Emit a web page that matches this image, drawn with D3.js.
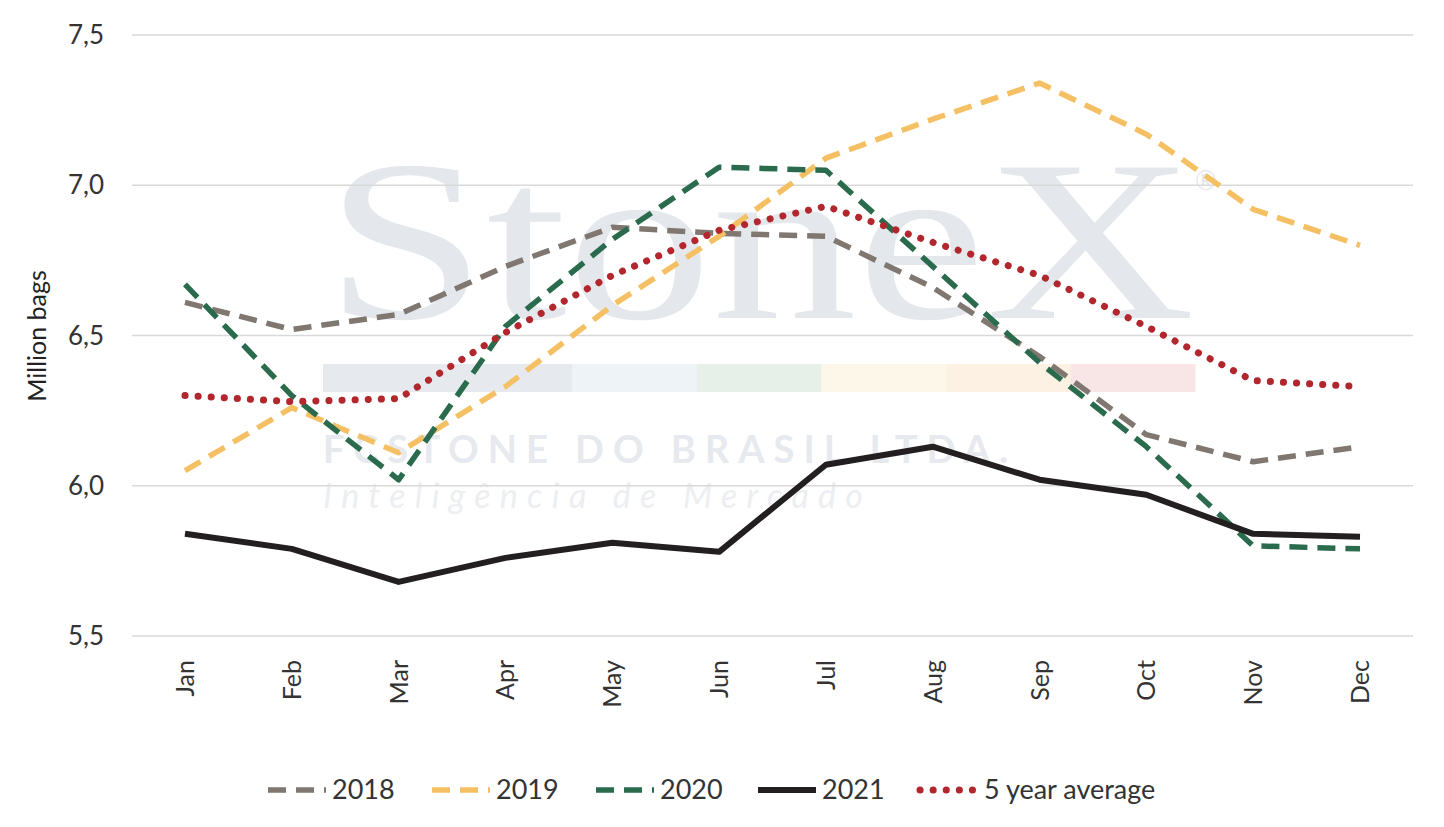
<!DOCTYPE html>
<html><head><meta charset="utf-8">
<script src="https://cdn.jsdelivr.net/npm/d3@7"></script>
<style>body{margin:0;background:#fff;font-family:Lato,"Noto Sans",sans-serif}</style>
</head><body><svg id="c" width="1444" height="827"></svg>
<script>
var months = ['Jan','Feb','Mar','Apr','May','Jun','Jul','Aug','Sep','Oct','Nov','Dec'];
var y2018 = [6.61,6.52,6.57,6.73,6.86,6.84,6.83,6.66,6.43,6.17,6.08,6.13];
var y2019 = [6.05,6.26,6.11,6.33,6.60,6.83,7.09,7.22,7.34,7.17,6.92,6.80];
var y2020 = [6.67,6.30,6.02,6.53,6.82,7.06,7.05,6.73,6.41,6.13,5.80,5.79];
var y2021 = [5.84,5.79,5.68,5.76,5.81,5.78,6.07,6.13,6.02,5.97,5.84,5.83];
var avg5 = [6.30,6.28,6.29,6.51,6.70,6.85,6.93,6.81,6.70,6.53,6.35,6.33];
var yTicks = [5.5,6.0,6.5,7.0,7.5];

var series = [
  {name:'2018', v:y2018, color:'#7f7770', dash:'18,10', w:5.5, cap:'butt'},
  {name:'2019', v:y2019, color:'#f5c063', dash:'18,10', w:5.5, cap:'butt'},
  {name:'2020', v:y2020, color:'#2a6b4d', dash:'18,10', w:5.5, cap:'butt'},
  {name:'2021', v:y2021, color:'#231f20', dash:null, w:6, cap:'butt'},
  {name:'5 year average', v:avg5, color:'#b2272d', dash:'0.1,13', w:7, cap:'round'}
];

var svg = d3.select('#c');
var x = d3.scalePoint().domain(months).range([185,1360]);
var y = d3.scaleLinear().domain([5.5,7.5]).range([636,35]);

// watermark
var wm = svg.append('g');
wm.append('text').attr('x',325).attr('y',318).attr('textLength',870).attr('lengthAdjust','spacingAndGlyphs')
  .attr('font-family','Liberation Serif,serif').attr('font-size',230).attr('fill','#e4e7ec').text('StoneX');
wm.append('text').attr('x',1195).attr('y',190).attr('font-size',26).attr('fill','#e4e7ec').text('®');
var wc = ['#e6e9ee','#e6e9ee','#eef3f8','#e7efe9','#fdf7ea','#fdf1e4','#f8e6e6'];
wc.forEach(function(c,i){ wm.append('rect').attr('x',323+i*124.6).attr('y',364).attr('width',125).attr('height',28).attr('fill',c); });
wm.append('text').attr('x',323).attr('y',463).attr('textLength',685).attr('font-size',38).attr('font-weight','bold').attr('fill','#e6e9ee').text('FCSTONE DO BRASIL LTDA.');
wm.append('text').attr('x',323).attr('y',508).attr('textLength',540).attr('font-size',34).attr('font-style','italic').attr('fill','#eceef1').text('Inteligência de Mercado');

// grid
svg.append('g').selectAll('line').data(yTicks).enter().append('line')
  .attr('x1',132).attr('x2',1413).attr('y1',function(d){return y(d);}).attr('y2',function(d){return y(d);})
  .attr('stroke','#d9d9d9').attr('stroke-width',1.3);
svg.append('g').selectAll('text').data(yTicks).enter().append('text')
  .attr('x',104).attr('y',function(d){return y(d)+9;}).attr('text-anchor','end')
  .attr('font-size',26).attr('fill','#333').text(function(d){return d3.format('.1f')(d).replace('.',',');});
svg.append('g').selectAll('text').data(months).enter().append('text')
  .attr('transform',function(d){return 'translate('+(x(d)+9)+',660) rotate(-90)';})
  .attr('text-anchor','end').attr('font-size',25).attr('fill','#333').text(function(d){return d;});
svg.append('text').attr('transform','translate(46,336) rotate(-90)').attr('text-anchor','middle')
  .attr('font-size',25).attr('fill','#222').text('Million bags');

var line = d3.line().x(function(d,i){return x(months[i]);}).y(function(d){return y(d);});
series.forEach(function(s){
  svg.append('path').attr('d',line(s.v)).attr('fill','none').attr('stroke',s.color)
    .attr('stroke-width',s.w).attr('stroke-dasharray',s.dash).attr('stroke-linecap',s.cap).attr('stroke-linejoin','round');
});

// legend
var lx = [268,432,596,758,920];
series.forEach(function(s,i){
  var g = svg.append('g').attr('transform','translate('+lx[i]+',790)');
  g.append('line').attr('x1',0).attr('x2',58).attr('stroke',s.color).attr('stroke-width',s.w)
    .attr('stroke-dasharray',s.dash).attr('stroke-linecap',s.cap);
  g.append('text').attr('x',64).attr('y',9).attr('font-size',27).attr('fill','#333').text(s.name);
});
</script></body></html>
